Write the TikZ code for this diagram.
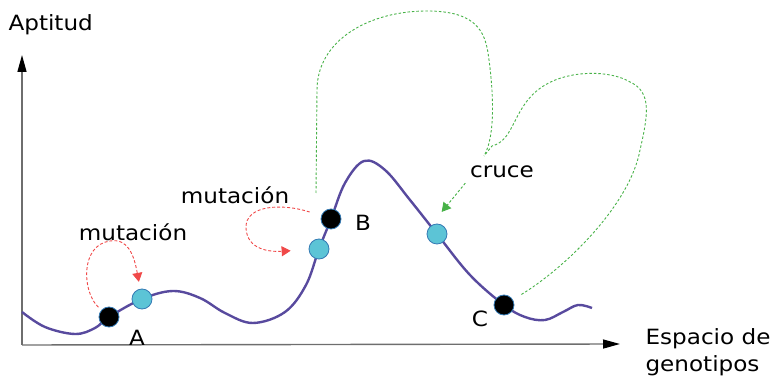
\documentclass[tikz,border=0pt]{standalone}
\usepackage{fontspec}
\setmainfont{DejaVu Sans}[FakeStretch=1.1]
\usepackage{tikz}
\usetikzlibrary{arrows.meta}
\definecolor{curvecol}{RGB}{88,74,158}
\definecolor{cyanfill}{RGB}{92,196,214}
\definecolor{cyanedge}{RGB}{52,122,180}
\definecolor{mutred}{RGB}{240,72,72}
\definecolor{crugreen}{RGB}{72,178,72}
\definecolor{axisgray}{RGB}{110,110,110}

\begin{document}
\begin{tikzpicture}[x=1pt, y=-1pt,
    font=\fontsize{21}{27}\selectfont,
    axis/.style={draw=axisgray, line width=1.4pt, -{Triangle[length=17pt,width=9pt,color=black]}},
    blk/.style={circle, fill=black, draw=cyanedge, line width=0.8pt, minimum size=20pt, inner sep=0pt},
    cyn/.style={circle, fill=cyanfill, draw=cyanedge, line width=0.8pt, minimum size=20pt, inner sep=0pt},
    mut/.style={draw=mutred, line width=0.9pt, dash pattern=on 3pt off 2pt, -{Triangle[length=9pt,width=10pt]}, mutred},
    cru/.style={draw=crugreen, line width=0.9pt, dash pattern=on 2.5pt off 2pt}]
  \useasboundingbox (0,0) rectangle (774,379);

  % axes
  \coordinate (o) at (22,345);
  \coordinate (ytop) at (22,55);
  \coordinate (xend) at (620,344);
  \draw[axis] (o) -- (ytop);
  \draw[axis] (o) -- (xend);
  \node (apt) [anchor=west] at (5,25) {Aptitud};
  \node (esp) [anchor=west, align=left] at (642,352) {Espacio de\\genotipos};

  % fitness landscape
  \draw[curvecol, line width=2.4pt] plot[smooth, tension=0.6] coordinates {
    (22,312) (45,327) (75,334) (95,328) (109,317) (142,299) (173,291)
    (200,298) (225,313) (253,323) (285,312) (306,285) (319,249) (331,219)
    (345,183) (364,161) (385,170) (410,200) (437,234) (470,275) (504,305)
    (525,317) (545,320) (563,312) (578,305) (592,308)};

  % individuals
  \node (a)  [blk] at (109,317) {};
  \node (a2) [cyn] at (142,299) {};
  \node (b)  [blk] at (331,219) {};
  \node (b2) [cyn] at (319,249) {};
  \node (c2) [cyn] at (437,234) {};
  \node (c)  [blk] at (504,305) {};
  \node (la) at (137,338) {A};
  \node (lb) at (363,223) {B};
  \node (lc) at (480,319) {C};

  % mutation
  \node (muta) at (133,232) {mutación};
  \node (mutb) at (235,195) {mutación};
  \draw[mut, shorten <=4pt, shorten >=7pt] (a) .. controls (82,292) and (80,245) .. (110,241)
    .. controls (128,238) and (134,255) .. (a2);
  \draw[mut, shorten <=12pt, shorten >=18pt] (b) .. controls (282,203) and (245,205) .. (246,228)
    .. controls (247,250) and (270,252) .. (b2);

  % crossover
  \node (cruce) at (502,172) {cruce};
  \coordinate (gb) at (316,193);
  \coordinate (mg) at (484,156);
  \draw[cru] (gb) -- (317,90) .. controls (317,40) and (370,10) .. (430,11)
    .. controls (480,12) and (486,35) .. (489,60)
    .. controls (493,90) and (496,135) .. (mg);
  \draw[cru, shorten <=10pt] (c) .. controls (565,268) and (630,205) .. (640,150)
    .. controls (648,115) and (652,92) .. (630,82)
    .. controls (610,70) and (570,70) .. (545,85)
    .. controls (512,105) and (516,140) .. (492,146) -- (mg);
  \draw[cru, crugreen, -{Triangle[length=9pt,width=10pt]}, shorten <=2pt, shorten >=19pt] (cruce.south west) -- (c2.north west);
\end{tikzpicture}
\end{document}
